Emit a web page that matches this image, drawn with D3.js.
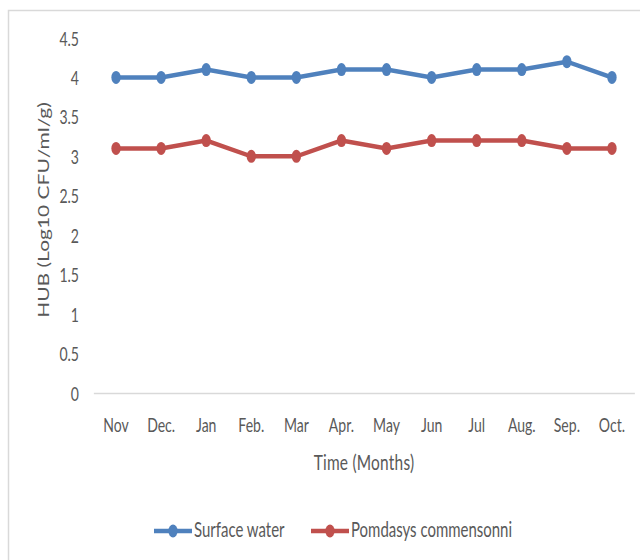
<!DOCTYPE html>
<html>
<head>
<meta charset="utf-8">
<script src="https://cdn.jsdelivr.net/npm/d3@7"></script>
<style>
  html, body { margin: 0; padding: 0; background: #fff; }
  svg { display: block; }
  text { font-family: Lato, "Open Sans", sans-serif; fill: #595959; }
</style>
</head>
<body>
<svg id="chart" width="640" height="560"></svg>
<script>
// Monthly HUB counts (Log10 CFU/ml/g)
const months = ["Nov", "Dec.", "Jan", "Feb.", "Mar", "Apr.", "May", "Jun", "Jul", "Aug.", "Sep.", "Oct."];
const surfaceWater = [4.0, 4.0, 4.1, 4.0, 4.0, 4.1, 4.1, 4.0, 4.1, 4.1, 4.2, 4.0];
const pomdasys = [3.1, 3.1, 3.2, 3.0, 3.0, 3.2, 3.1, 3.2, 3.2, 3.2, 3.1, 3.1];
const yTicks = [0, 0.5, 1, 1.5, 2, 2.5, 3, 3.5, 4, 4.5];

const seriesList = [
  { name: "Surface water", values: surfaceWater, color: "#4F81BD" },
  { name: "Pomdasys commensonni", values: pomdasys, color: "#C0504D" }
];

// Everything is drawn in a horizontally condensed coordinate space
const SX = 0.72;
const svg = d3.select("#chart");

// chart frame
svg.append("rect")
  .attr("x", 8.5).attr("y", 10.5)
  .attr("width", 700).attr("height", 700)
  .attr("fill", "none")
  .attr("stroke", "#d9d9d9")
  .attr("stroke-width", 1.5);

const g = svg.append("g").attr("transform", `scale(${SX},1)`);

const plotLeft = 93.5 / SX, plotRight = 634.5 / SX;
const x = d3.scaleBand().domain(months).range([plotLeft, plotRight]);
const y = d3.scaleLinear().domain([0, 4.5]).range([393, 38]);
const cx = m => x(m) + x.bandwidth() / 2;

// y axis labels (no axis line)
const yAxis = d3.axisLeft(y).tickValues(yTicks).tickSize(0).tickPadding(0)
  .tickFormat(d3.format("~g"));
g.append("g")
  .attr("transform", `translate(${79 / SX},0)`)
  .call(yAxis)
  .call(s => s.select(".domain").remove())
  .call(s => s.selectAll("text")
    .attr("font-family", "Lato, 'Open Sans', sans-serif")
    .attr("font-size", 19.5)
    .attr("fill", "#595959")
    .attr("dy", "0.36em"));

// x axis baseline and month labels
const xAxis = d3.axisBottom(x).tickSize(0).tickPadding(0);
g.append("g")
  .attr("transform", `translate(0,${y(0)})`)
  .call(xAxis)
  .call(s => s.select(".domain")
    .attr("stroke", "#d9d9d9")
    .attr("stroke-width", 1.5))
  .call(s => s.selectAll("text")
    .attr("font-family", "Lato, 'Open Sans', sans-serif")
    .attr("font-size", 19.5)
    .attr("fill", "#595959")
    .attr("dy", 0)
    .attr("y", 39));

// axis titles
g.append("text")
  .attr("x", (plotLeft + plotRight) / 2)
  .attr("y", 470)
  .attr("text-anchor", "middle")
  .attr("font-size", 21.5)
  .attr("letter-spacing", 0.3)
  .text("Time (Months)");

g.append("text")
  .attr("transform", `translate(${49 / SX},210) rotate(-90)`)
  .attr("text-anchor", "middle")
  .attr("font-size", 21)
  .text("HUB (Log10 CFU/ml/g)");

// series lines and markers
const line = d3.line().x((d, i) => cx(months[i])).y(d => y(d));
seriesList.forEach(s => {
  g.append("path")
    .datum(s.values)
    .attr("fill", "none")
    .attr("stroke", s.color)
    .attr("stroke-width", 4.5)
    .attr("stroke-linejoin", "round")
    .attr("d", line);
  g.selectAll(null)
    .data(s.values)
    .enter().append("circle")
    .attr("cx", (d, i) => cx(months[i]))
    .attr("cy", d => y(d))
    .attr("r", 6.5)
    .attr("fill", s.color);
});

// legend
const legendY = 531;
const legendItems = [
  { s: seriesList[0], x0: 154, x1: 192, tx: 194 },
  { s: seriesList[1], x0: 311, x1: 349, tx: 351 }
];
legendItems.forEach(it => {
  const lg = g.append("g");
  lg.append("line")
    .attr("x1", it.x0 / SX).attr("x2", it.x1 / SX)
    .attr("y1", legendY).attr("y2", legendY)
    .attr("stroke", it.s.color)
    .attr("stroke-width", 4.5);
  lg.append("circle")
    .attr("cx", (it.x0 + it.x1) / 2 / SX)
    .attr("cy", legendY)
    .attr("r", 6.5)
    .attr("fill", it.s.color);
  lg.append("text")
    .attr("x", it.tx / SX)
    .attr("y", legendY + 6.5)
    .attr("font-size", 20.8)
    .text(it.s.name);
});
</script>
</body>
</html>
